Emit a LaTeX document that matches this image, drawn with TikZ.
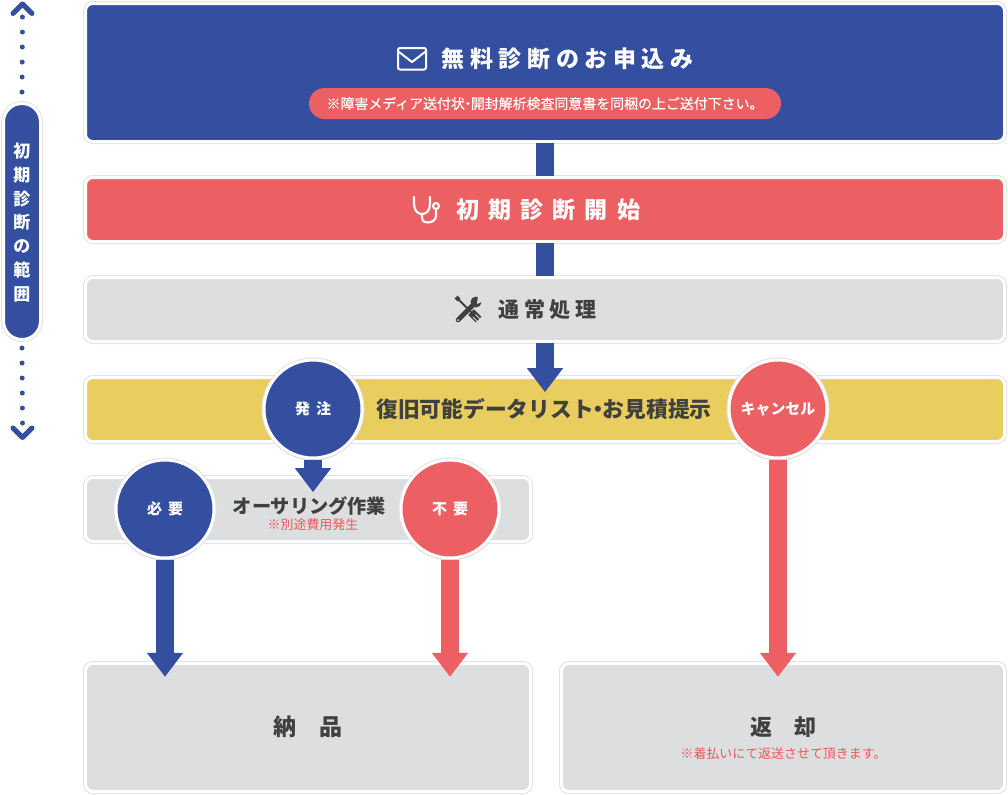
\documentclass[tikz,border=0pt]{standalone}
\usepackage{fontspec}
\setmainfont{Noto Sans CJK JP}
\usepackage{xcolor}
\usepackage{tikz}
\usetikzlibrary{calc}
\usetikzlibrary{arrows.meta}
\usetikzlibrary{positioning,shadows}
\definecolor{clblue}{HTML}{344F9F}
\definecolor{clred}{HTML}{EC5F62}
\definecolor{clgray}{HTML}{DDDEE0}
\definecolor{clyellow}{HTML}{E9CD5E}
\definecolor{clrim}{HTML}{E2E2E2}
\definecolor{cltext}{HTML}{404040}
\definecolor{clnote}{HTML}{F0565A}
\newcommand{\jpsize}[2]{\fontsize{#1}{#1}\selectfont\addfontfeature{LetterSpace=#2}}
\tikzstyle{block} = [rectangle, rounded corners=5.5pt, inner sep=0pt, outer sep=0pt, draw=white, line width=2.25pt, preaction={draw=clrim, line width=3.75pt}, minimum width=689.25pt, minimum height=48pt]
\tikzstyle{badge} = [circle, inner sep=0pt, outer sep=1.15pt, draw=white, line width=2.25pt, preaction={draw=clrim, line width=3.75pt}, minimum size=73.5pt, text=white, font=\bfseries\jpsize{11.25pt}{40}, general shadow={fill=black, opacity=0.12, shadow yshift=-1.5pt}]
\tikzstyle{label} = [inner sep=0pt, font=\bfseries\jpsize{15pt}{0}, text=cltext]
\tikzstyle{note} = [inner sep=0pt, font=\jpsize{9.7pt}{0}, text=clnote]
\tikzstyle{line} = [draw, line width=13.5pt, shorten <=1.2pt, shorten >=1.2pt]
\tikzstyle{flow} = [draw, line width=13.5pt, -{Triangle[length=18pt,width=26pt]}]
\tikzstyle{dots} = [draw=clblue, line width=3.75pt, line cap=round, dash pattern=on 0pt off 11.25pt]
\tikzstyle{chevron} = [draw=clblue, line width=3.75pt, line cap=round, line join=round]
\tikzstyle{icon} = [draw, line width=1.6pt, line cap=round, line join=round]
\begin{document}
\begin{tikzpicture}[x=0.75pt, y=-0.75pt]
    \useasboundingbox (0,0) rectangle (1008,794);

    % main column
    \node [block, fill=clblue, minimum height=103.5pt] (apply) at (545,72.5) {};
    \node [block, fill=clred, below=27pt of apply] (start) {};
    \node [block, fill=clgray, below=27pt of start] (normal) {};
    \node [block, fill=clyellow, below=27pt of normal] (quote) {};
    \node [block, fill=clgray, minimum width=333.75pt, below=27pt of quote.south west, anchor=north west] (overhaul) {};
    \node [block, fill=clgray, minimum width=333.75pt, minimum height=96pt, below=91.5pt of overhaul] (deliver) {};
    \node [block, fill=clgray, minimum width=332.25pt, minimum height=96pt, anchor=south east] (giveback) at (deliver.south -| quote.east) {};

    % texts of the blocks
    \node [inner sep=0pt, text=white, font=\bfseries\jpsize{17.25pt}{24}] (applytext) at (567.5,58.5) {無料診断のお申込み};
    \node [rectangle, rounded corners=11.6pt, fill=clred, minimum width=354pt, minimum height=23.25pt, inner sep=0pt, text=white, font=\jpsize{10.45pt}{0}\addfontfeature{FakeBold=0.25}] (sendnote) at (545,103.5) {※障害メディア送付状\kern-3pt・\kern-3pt 開封解析検査同意書を同梱の上ご送付下さい。};
    \node [inner sep=0pt, text=white, font=\bfseries\jpsize{17.25pt}{40}] (starttext) at (548,209.5) {初期診断開始};
    \node [label, font=\bfseries\jpsize{15.75pt}{21}] (normaltext) at (547.5,310) {通常処理};
    \node [label, font=\bfseries\jpsize{16.3pt}{0}] (quotetext) at (544,409.5) {復旧可能データリスト\kern-4.7pt・\kern-4.7pt お見積提示};
    \node [label, font=\bfseries\jpsize{14.4pt}{0}] (overhaultext) at (309.5,506) {オーサリング作業};
    \node [note] (costnote) at (313,524.5) {※別途費用発生};
    \node [label, font=\bfseries\jpsize{17.25pt}{0}] (delivertext) at (308,727) {納　品};
    \node [label, font=\bfseries\jpsize{16.5pt}{0}] (givebacktext) at (783.5,727) {返　却};
    \node [note] (returnnote) at (783.5,753.5) {※着払いにて返送させて頂きます。};

    % range at the left
    \node [rectangle, rounded corners=13.8pt, fill=clblue, draw=white, line width=2.25pt, preaction={draw=clrim, line width=3.75pt}, inner sep=0pt, outer sep=0pt, minimum width=27.75pt, minimum height=177pt] (range) at (22,221.5) {};
    \node [inner sep=0pt, align=center, text=white, font=\bfseries\fontsize{12.75pt}{17.8pt}\selectfont] (rangetext) at (22,222.5) {初\\期\\診\\断\\の\\範\\囲};
    \coordinate (rangetop) at (22.5,16.5);
    \coordinate (rangebottom) at (22.5,424);
    \path [dots] ([yshift=8.6pt]range.north) -- (rangetop);
    \path [dots] ([yshift=-6.4pt]range.south) -- (rangebottom);
    \path [chevron] (13,13.5) -- (22.5,4) -- (32,13.5);
    \path [chevron] (13,428) -- (22.5,437.5) -- (32,428);

    % icons
    \draw [white, line width=1.5pt, rounded corners=1.5pt] (398,48) rectangle (426,69.5);
    \draw [icon, white, line width=1.5pt] (399,52) -- (412,62) -- (425,52);
    \draw [icon, white] (414,197) -- (414,203) .. controls (414,210) and (417,214) .. (422,214) .. controls (427,214) and (430,210) .. (430,203) -- (430,197);
    \draw [icon, white] (422,214) -- (422,217) .. controls (422,222) and (425,222.5) .. (428,222.5) .. controls (432,222.5) and (436,220) .. (436,216) -- (436,209);
    \draw [icon, white] (436,206) circle (3);
    \draw [cltext, line width=3pt] (456,297) -- (459,300);
    \draw [cltext, line width=1.5pt] (457,298) -- (472,313);
    \draw [cltext, line width=6pt] (471,312) -- (478.5,319.5);
    \draw [clgray, line width=0.6pt] (473,317) -- (478,322);
    \draw [clgray, line width=0.6pt] (475.5,314.5) -- (480.5,319.5);
    \draw [cltext, line width=3.5pt, line cap=round] (458,320) -- (474,304);
    \fill [clgray] (458,320) circle (1);
    \fill [cltext] (476,302) circle (5.5);
    \fill [clgray] (478,295) -- (484,295) -- (484,301) -- (477,304) -- cycle;

    % connectors
    \path [line, clblue] (apply) -- (start);
    \path [line, clblue] (start) -- (normal);
    \path [flow, clblue] ([yshift=-1.2pt]normal.south) -- ([yshift=-11pt]quote.north);

    % decisions
    \node [badge, fill=clblue] (order) at (313,409) {\raisebox{-1.5pt}{発注}};
    \node [badge, fill=clred, font=\bfseries\jpsize{11.2pt}{0}] (cancel) at (778,409) {\raisebox{-1.5pt}{キャンセル}};
    \node [badge, fill=clblue] (need) at (165,509) {必要};
    \node [badge, fill=clred] (noneed) at (450,509) {不要};

    \path [flow, clblue] (order) -- ([yshift=-11pt]order |- overhaul.north);
    \path [flow, clblue] (need) -- ([yshift=-10pt]need |- deliver.north);
    \path [flow, clred] (noneed) -- ([yshift=-10pt]noneed |- deliver.north);
    \path [flow, clred] (cancel) -- ([yshift=-10pt]cancel |- giveback.north);
\end{tikzpicture}
\end{document}
